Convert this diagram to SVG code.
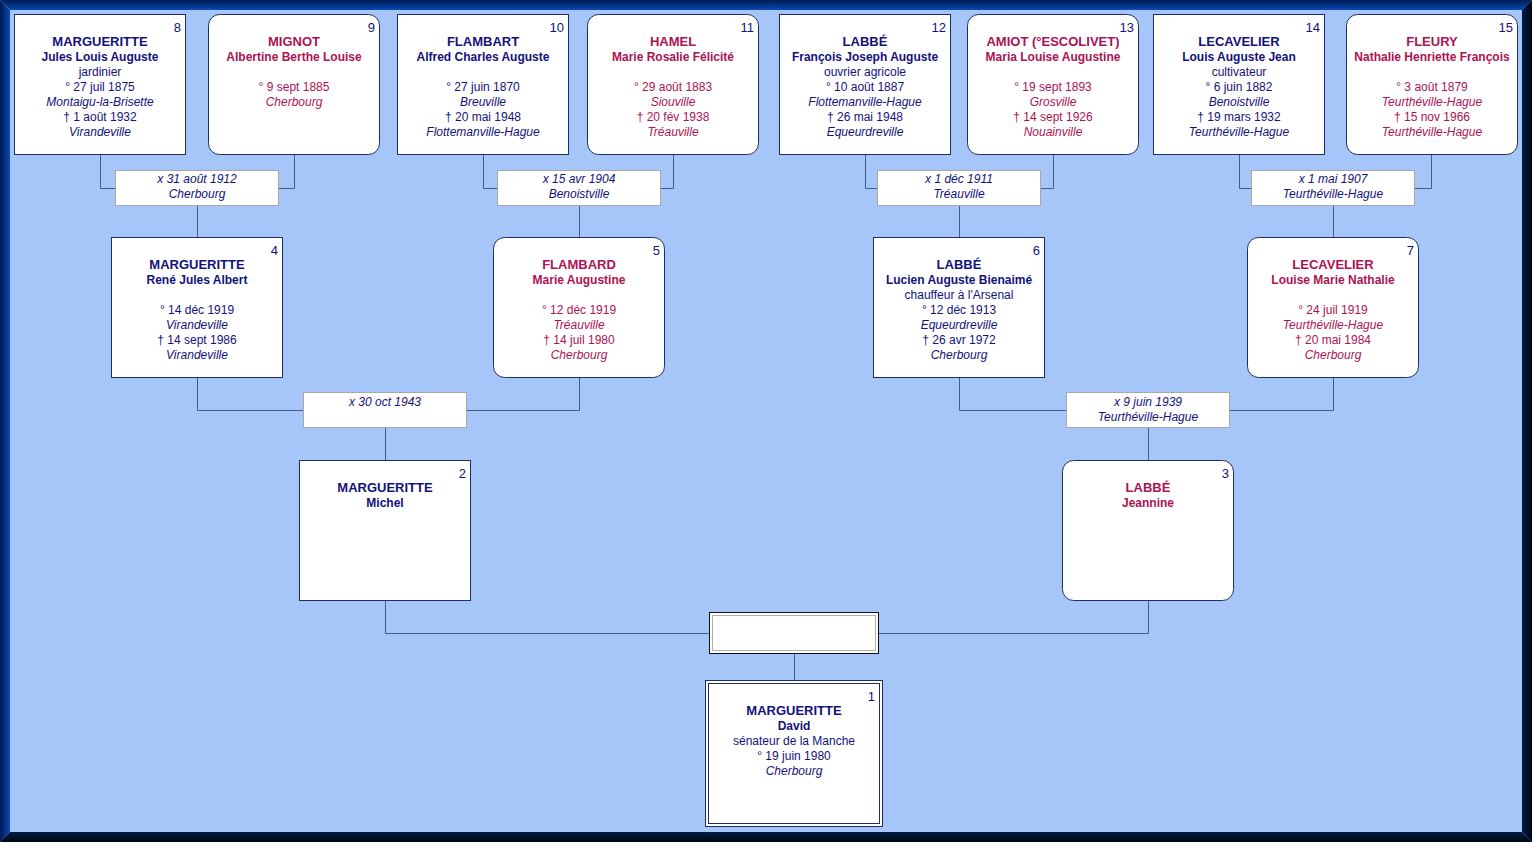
<svg xmlns="http://www.w3.org/2000/svg" width="1532" height="842" viewBox="0 0 1532 842">
<defs>
<linearGradient id="gTop" x1="0" y1="0" x2="0" y2="1"><stop offset="0" stop-color="#001a55"/><stop offset="1" stop-color="#0a4ab0"/></linearGradient>
<linearGradient id="gLeft" x1="0" y1="0" x2="1" y2="0"><stop offset="0" stop-color="#001a55"/><stop offset="1" stop-color="#0a4ab0"/></linearGradient>
<linearGradient id="gBot" x1="0" y1="0" x2="0" y2="1"><stop offset="0" stop-color="#001c45"/><stop offset="1" stop-color="#000612"/></linearGradient>
<linearGradient id="gRight" x1="0" y1="0" x2="1" y2="0"><stop offset="0" stop-color="#001c45"/><stop offset="1" stop-color="#000612"/></linearGradient>
</defs>
<style>
.bg{fill:#a6c6fa}
.m{fill:#ffffff;stroke:#1d2f5e;stroke-width:1}
.f{fill:#ffffff;stroke:#1d2f5e;stroke-width:1}
.mar{fill:#ffffff;stroke:#a8a8a8;stroke-width:1}
.c{fill:none;stroke:#3f5f7f;stroke-width:1}
text{font-family:"Liberation Sans",Arial,sans-serif;font-size:12px;text-anchor:middle}
.tm{fill:#12127a}
.tf{fill:#ad1252}
.n{text-anchor:end;fill:#12127a;font-size:13px}
.sn{font-weight:bold;font-size:13px}
.gn{font-weight:bold}
.i{font-style:italic}
</style>
<rect class="bg" x="0" y="0" width="1532" height="842"/>
<polygon points="0,0 1532,0 1522,10 10,10" fill="url(#gTop)"/>
<polygon points="0,0 10,10 10,832 0,842" fill="url(#gLeft)"/>
<polygon points="10,832 1522,832 1532,842 0,842" fill="url(#gBot)"/>
<polygon points="1522,10 1532,0 1532,842 1522,832" fill="url(#gRight)"/>

<g id="connectors">
<polyline class="c" points="100.5,154 100.5,188.5 115,188.5"/>
<polyline class="c" points="294.5,154 294.5,188.5 278,188.5"/>
<line class="c" x1="197.5" y1="205" x2="197.5" y2="237"/>
<polyline class="c" points="483.5,154 483.5,188.5 497,188.5"/>
<polyline class="c" points="673.5,154 673.5,188.5 660,188.5"/>
<line class="c" x1="579.5" y1="205" x2="579.5" y2="237"/>
<polyline class="c" points="865.5,154 865.5,188.5 877,188.5"/>
<polyline class="c" points="1053.5,154 1053.5,188.5 1040,188.5"/>
<line class="c" x1="959.5" y1="205" x2="959.5" y2="237"/>
<polyline class="c" points="1239.5,154 1239.5,188.5 1252,188.5"/>
<polyline class="c" points="1431.5,154 1431.5,188.5 1414,188.5"/>
<line class="c" x1="1333.5" y1="205" x2="1333.5" y2="237"/>
<polyline class="c" points="197.5,377 197.5,410.5 303,410.5"/>
<polyline class="c" points="579.5,377 579.5,410.5 467,410.5"/>
<line class="c" x1="385.5" y1="428" x2="385.5" y2="460"/>
<polyline class="c" points="959.5,377 959.5,410.5 1066,410.5"/>
<polyline class="c" points="1333.5,377 1333.5,410.5 1229,410.5"/>
<line class="c" x1="1148.5" y1="428" x2="1148.5" y2="460"/>
<polyline class="c" points="385.5,600 385.5,633.5 709,633.5"/>
<polyline class="c" points="1148.5,600 1148.5,633.5 879,633.5"/>
<line class="c" x1="794.5" y1="654" x2="794.5" y2="680"/>
</g>

<g id="mar8-9"><rect class="mar" x="115.5" y="170.5" width="163" height="35"/><text class="tm i" x="197" y="183">x 31 août 1912</text><text class="tm i" x="197" y="198">Cherbourg</text></g>
<g id="mar10-11"><rect class="mar" x="497.5" y="170.5" width="163" height="35"/><text class="tm i" x="579" y="183">x 15 avr 1904</text><text class="tm i" x="579" y="198">Benoistville</text></g>
<g id="mar12-13"><rect class="mar" x="877.5" y="170.5" width="163" height="35"/><text class="tm i" x="959" y="183">x 1 déc 1911</text><text class="tm i" x="959" y="198">Tréauville</text></g>
<g id="mar14-15"><rect class="mar" x="1251.5" y="170.5" width="163" height="35"/><text class="tm i" x="1333" y="183">x 1 mai 1907</text><text class="tm i" x="1333" y="198">Teurthéville-Hague</text></g>
<g id="mar4-5"><rect class="mar" x="303.5" y="392.5" width="163" height="35"/><text class="tm i" x="385" y="406">x 30 oct 1943</text></g>
<g id="mar6-7"><rect class="mar" x="1066.5" y="392.5" width="163" height="35"/><text class="tm i" x="1148" y="406">x 9 juin 1939</text><text class="tm i" x="1148" y="421">Teurthéville-Hague</text></g>
<g id="mar2-3"><rect x="709.5" y="612.5" width="169" height="41" fill="#ffffff" stroke="#111111"/><rect x="712.5" y="615.5" width="163" height="35" fill="none" stroke="#b0b0b0"/></g>

<g id="p8"><rect class="m" x="14.5" y="14.5" width="171" height="140"/>
<text class="n" x="181" y="32">8</text>
<text class="tm sn" x="100" y="46">MARGUERITTE</text>
<text class="tm gn" x="100" y="61">Jules Louis Auguste</text>
<text class="tm" x="100" y="76">jardinier</text>
<text class="tm" x="100" y="91">° 27 juil 1875</text>
<text class="tm i" x="100" y="106">Montaigu-la-Brisette</text>
<text class="tm" x="100" y="121">† 1 août 1932</text>
<text class="tm i" x="100" y="136">Virandeville</text></g>

<g id="p9"><rect class="f" x="208.5" y="14.5" width="171" height="140" rx="11"/>
<text class="n" x="375" y="32">9</text>
<text class="tf sn" x="294" y="46">MIGNOT</text>
<text class="tf gn" x="294" y="61">Albertine Berthe Louise</text>
<text class="tf" x="294" y="91">° 9 sept 1885</text>
<text class="tf i" x="294" y="106">Cherbourg</text></g>

<g id="p10"><rect class="m" x="397.5" y="14.5" width="171" height="140"/>
<text class="n" x="564" y="32">10</text>
<text class="tm sn" x="483" y="46">FLAMBART</text>
<text class="tm gn" x="483" y="61">Alfred Charles Auguste</text>
<text class="tm" x="483" y="91">° 27 juin 1870</text>
<text class="tm i" x="483" y="106">Breuville</text>
<text class="tm" x="483" y="121">† 20 mai 1948</text>
<text class="tm i" x="483" y="136">Flottemanville-Hague</text></g>

<g id="p11"><rect class="f" x="587.5" y="14.5" width="171" height="140" rx="11"/>
<text class="n" x="754" y="32">11</text>
<text class="tf sn" x="673" y="46">HAMEL</text>
<text class="tf gn" x="673" y="61">Marie Rosalie Félicité</text>
<text class="tf" x="673" y="91">° 29 août 1883</text>
<text class="tf i" x="673" y="106">Siouville</text>
<text class="tf" x="673" y="121">† 20 fév 1938</text>
<text class="tf i" x="673" y="136">Tréauville</text></g>

<g id="p12"><rect class="m" x="779.5" y="14.5" width="171" height="140"/>
<text class="n" x="946" y="32">12</text>
<text class="tm sn" x="865" y="46">LABBÉ</text>
<text class="tm gn" x="865" y="61">François Joseph Auguste</text>
<text class="tm" x="865" y="76">ouvrier agricole</text>
<text class="tm" x="865" y="91">° 10 août 1887</text>
<text class="tm i" x="865" y="106">Flottemanville-Hague</text>
<text class="tm" x="865" y="121">† 26 mai 1948</text>
<text class="tm i" x="865" y="136">Equeurdreville</text></g>

<g id="p13"><rect class="f" x="967.5" y="14.5" width="171" height="140" rx="11"/>
<text class="n" x="1134" y="32">13</text>
<text class="tf sn" x="1053" y="46">AMIOT (°ESCOLIVET)</text>
<text class="tf gn" x="1053" y="61">Maria Louise Augustine</text>
<text class="tf" x="1053" y="91">° 19 sept 1893</text>
<text class="tf i" x="1053" y="106">Grosville</text>
<text class="tf" x="1053" y="121">† 14 sept 1926</text>
<text class="tf i" x="1053" y="136">Nouainville</text></g>

<g id="p14"><rect class="m" x="1153.5" y="14.5" width="171" height="140"/>
<text class="n" x="1320" y="32">14</text>
<text class="tm sn" x="1239" y="46">LECAVELIER</text>
<text class="tm gn" x="1239" y="61">Louis Auguste Jean</text>
<text class="tm" x="1239" y="76">cultivateur</text>
<text class="tm" x="1239" y="91">° 6 juin 1882</text>
<text class="tm i" x="1239" y="106">Benoistville</text>
<text class="tm" x="1239" y="121">† 19 mars 1932</text>
<text class="tm i" x="1239" y="136">Teurthéville-Hague</text></g>

<g id="p15"><rect class="f" x="1346.5" y="14.5" width="171" height="140" rx="11"/>
<text class="n" x="1513" y="32">15</text>
<text class="tf sn" x="1432" y="46">FLEURY</text>
<text class="tf gn" x="1432" y="61">Nathalie Henriette François</text>
<text class="tf" x="1432" y="91">° 3 août 1879</text>
<text class="tf i" x="1432" y="106">Teurthéville-Hague</text>
<text class="tf" x="1432" y="121">† 15 nov 1966</text>
<text class="tf i" x="1432" y="136">Teurthéville-Hague</text></g>

<g id="p4"><rect class="m" x="111.5" y="237.5" width="171" height="140"/>
<text class="n" x="278" y="255">4</text>
<text class="tm sn" x="197" y="269">MARGUERITTE</text>
<text class="tm gn" x="197" y="284">René Jules Albert</text>
<text class="tm" x="197" y="314">° 14 déc 1919</text>
<text class="tm i" x="197" y="329">Virandeville</text>
<text class="tm" x="197" y="344">† 14 sept 1986</text>
<text class="tm i" x="197" y="359">Virandeville</text></g>

<g id="p5"><rect class="f" x="493.5" y="237.5" width="171" height="140" rx="11"/>
<text class="n" x="660" y="255">5</text>
<text class="tf sn" x="579" y="269">FLAMBARD</text>
<text class="tf gn" x="579" y="284">Marie Augustine</text>
<text class="tf" x="579" y="314">° 12 déc 1919</text>
<text class="tf i" x="579" y="329">Tréauville</text>
<text class="tf" x="579" y="344">† 14 juil 1980</text>
<text class="tf i" x="579" y="359">Cherbourg</text></g>

<g id="p6"><rect class="m" x="873.5" y="237.5" width="171" height="140"/>
<text class="n" x="1040" y="255">6</text>
<text class="tm sn" x="959" y="269">LABBÉ</text>
<text class="tm gn" x="959" y="284">Lucien Auguste Bienaimé</text>
<text class="tm" x="959" y="299">chauffeur à l'Arsenal</text>
<text class="tm" x="959" y="314">° 12 déc 1913</text>
<text class="tm i" x="959" y="329">Equeurdreville</text>
<text class="tm" x="959" y="344">† 26 avr 1972</text>
<text class="tm i" x="959" y="359">Cherbourg</text></g>

<g id="p7"><rect class="f" x="1247.5" y="237.5" width="171" height="140" rx="11"/>
<text class="n" x="1414" y="255">7</text>
<text class="tf sn" x="1333" y="269">LECAVELIER</text>
<text class="tf gn" x="1333" y="284">Louise Marie Nathalie</text>
<text class="tf" x="1333" y="314">° 24 juil 1919</text>
<text class="tf i" x="1333" y="329">Teurthéville-Hague</text>
<text class="tf" x="1333" y="344">† 20 mai 1984</text>
<text class="tf i" x="1333" y="359">Cherbourg</text></g>

<g id="p2"><rect class="m" x="299.5" y="460.5" width="171" height="140"/>
<text class="n" x="466" y="478">2</text>
<text class="tm sn" x="385" y="492">MARGUERITTE</text>
<text class="tm gn" x="385" y="507">Michel</text></g>

<g id="p3"><rect class="f" x="1062.5" y="460.5" width="171" height="140" rx="11"/>
<text class="n" x="1229" y="478">3</text>
<text class="tf sn" x="1148" y="492">LABBÉ</text>
<text class="tf gn" x="1148" y="507">Jeannine</text></g>

<g id="p1"><rect x="705.5" y="680.5" width="177" height="146" fill="#ffffff" stroke="#1d2f5e"/>
<rect x="708.5" y="683.5" width="171" height="140" fill="none" stroke="#1d2f5e"/>
<text class="n" x="875" y="701">1</text>
<text class="tm sn" x="794" y="715">MARGUERITTE</text>
<text class="tm gn" x="794" y="730">David</text>
<text class="tm" x="794" y="745">sénateur de la Manche</text>
<text class="tm" x="794" y="760">° 19 juin 1980</text>
<text class="tm i" x="794" y="775">Cherbourg</text></g>
</svg>
